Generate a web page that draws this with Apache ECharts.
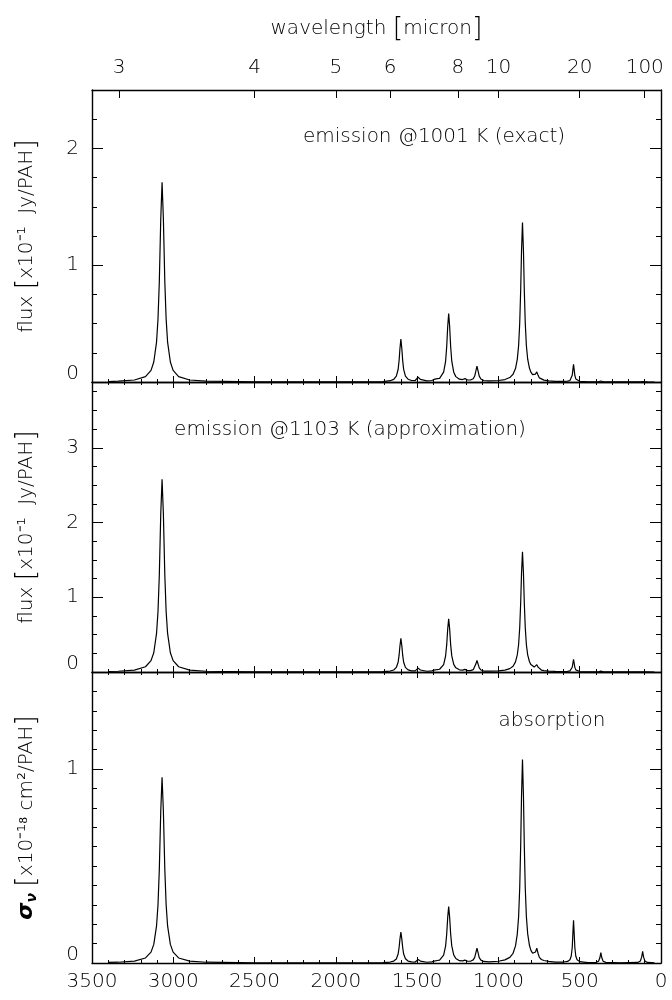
<!DOCTYPE html>
<html>
<head>
<meta charset="utf-8">
<script src="https://cdn.jsdelivr.net/npm/echarts@6/dist/echarts.min.js"></script>
<style>
html,body{margin:0;padding:0;background:#fff}
#chart{width:672px;height:1000px}
</style>
</head>
<body>
<div id="chart"></div>
<script>
// wavenumber grid [cm^-1], shared by the three panels
const wavenumber = [
  3400, 3339, 3239, 3171, 3137, 3120, 3103, 3094, 3086, 3077, 3069, 3061, 3052, 3044, 3035, 3018, 3001, 2967, 2899, 2799, 2500, 2000,
  1800, 1710, 1666, 1644, 1628, 1617, 1611, 1606, 1600, 1594, 1589, 1583, 1572, 1556, 1534, 1512, 1500, 1494, 1490, 1486, 1480, 1468,
  1440, 1410, 1396, 1386, 1376, 1362, 1350, 1337, 1325, 1318, 1312, 1306, 1300, 1294, 1287, 1275, 1262, 1240, 1220, 1212, 1206, 1200,
  1190, 1172, 1155, 1146, 1139, 1132, 1125, 1118, 1108, 1090, 1060,
  1000, 960, 930, 910, 895, 884, 876, 869, 863, 858, 852, 846, 841, 835, 828, 820, 809, 800, 790, 780,
  772, 764, 756, 748, 736, 720, 690, 650, 600, 575, 560, 552, 546, 542, 538, 534, 530, 524, 516, 500,
  450, 400, 384, 376, 370, 364, 356, 340, 250, 143, 127, 119, 113, 107, 99, 83, 40
];

// emission @1001 K (exact), x10^-1 Jy/PAH
const emissionExact = [
  0.004, 0.007, 0.017, 0.046, 0.10, 0.171, 0.342, 0.54, 0.855, 1.40, 1.71, 1.40, 0.855, 0.54, 0.342, 0.171, 0.10, 0.046, 0.017, 0.007, 0.002, 0.001,
  0.002, 0.004, 0.011, 0.022, 0.050, 0.107, 0.184, 0.282, 0.367, 0.283, 0.185, 0.108, 0.050, 0.024, 0.013, 0.013, 0.023, 0.041, 0.052, 0.041, 0.022, 0.012,
  0.009, 0.013, 0.022, 0.034, 0.029, 0.031, 0.046, 0.084, 0.177, 0.306, 0.475, 0.587, 0.475, 0.306, 0.178, 0.084, 0.046, 0.024, 0.021, 0.026, 0.029, 0.025,
  0.017, 0.017, 0.028, 0.051, 0.093, 0.136, 0.093, 0.050, 0.025, 0.013, 0.009,
  0.013, 0.021, 0.038, 0.066, 0.115, 0.194, 0.309, 0.505, 0.792, 1.12, 1.366, 1.12, 0.793, 0.506, 0.310, 0.195, 0.117, 0.084, 0.063, 0.057,
  0.068, 0.087, 0.057, 0.035, 0.023, 0.016, 0.010, 0.006, 0.005, 0.007, 0.013, 0.026, 0.057, 0.106, 0.152, 0.106, 0.056, 0.026, 0.012, 0.006,
  0.002, 0.002, 0.002, 0.005, 0.009, 0.005, 0.002, 0.001, 0.0005, 0.0004, 0.0006, 0.0014, 0.0024, 0.0014, 0.0006, 0.0004, 0
];

// emission @1103 K (approximation), x10^-1 Jy/PAH
const emissionApprox = [
  0.007, 0.010, 0.026, 0.070, 0.152, 0.258, 0.516, 0.81, 1.29, 2.12, 2.58, 2.12, 1.29, 0.81, 0.516, 0.258, 0.152, 0.070, 0.026, 0.010, 0.003, 0.002,
  0.002, 0.005, 0.013, 0.027, 0.061, 0.131, 0.225, 0.345, 0.449, 0.346, 0.225, 0.131, 0.062, 0.029, 0.016, 0.015, 0.028, 0.052, 0.067, 0.052, 0.027, 0.013,
  0.010, 0.015, 0.025, 0.038, 0.033, 0.037, 0.055, 0.100, 0.214, 0.369, 0.575, 0.711, 0.576, 0.370, 0.215, 0.102, 0.056, 0.029, 0.025, 0.031, 0.035, 0.029,
  0.019, 0.018, 0.031, 0.057, 0.106, 0.154, 0.105, 0.056, 0.027, 0.013, 0.011,
  0.015, 0.025, 0.045, 0.077, 0.135, 0.229, 0.364, 0.595, 0.933, 1.318, 1.608, 1.318, 0.933, 0.596, 0.364, 0.230, 0.137, 0.099, 0.074, 0.066,
  0.077, 0.098, 0.065, 0.040, 0.026, 0.018, 0.012, 0.008, 0.006, 0.008, 0.015, 0.029, 0.063, 0.117, 0.169, 0.117, 0.062, 0.028, 0.014, 0.006,
  0.002, 0.002, 0.003, 0.006, 0.011, 0.006, 0.003, 0.0015, 0.0006, 0.0004, 0.0006, 0.0014, 0.0024, 0.0014, 0.0006, 0.0004, 0
];

// absorption cross section, x10^-18 cm^2/PAH
const absorption = [
  0.003, 0.004, 0.010, 0.026, 0.056, 0.096, 0.191, 0.30, 0.48, 0.785, 0.957, 0.785, 0.48, 0.30, 0.191, 0.096, 0.056, 0.026, 0.010, 0.004, 0.001, 0.001,
  0.001, 0.002, 0.005, 0.010, 0.021, 0.046, 0.080, 0.122, 0.159, 0.122, 0.080, 0.046, 0.022, 0.010, 0.006, 0.005, 0.010, 0.018, 0.023, 0.018, 0.010, 0.005,
  0.004, 0.006, 0.010, 0.015, 0.013, 0.015, 0.022, 0.041, 0.087, 0.151, 0.235, 0.291, 0.235, 0.151, 0.088, 0.042, 0.023, 0.012, 0.011, 0.013, 0.015, 0.013,
  0.009, 0.009, 0.016, 0.029, 0.052, 0.076, 0.052, 0.028, 0.015, 0.008, 0.006,
  0.009, 0.016, 0.029, 0.050, 0.088, 0.149, 0.237, 0.388, 0.608, 0.860, 1.049, 0.860, 0.609, 0.389, 0.238, 0.150, 0.090, 0.065, 0.050, 0.046,
  0.057, 0.076, 0.049, 0.029, 0.018, 0.013, 0.008, 0.005, 0.005, 0.008, 0.017, 0.036, 0.080, 0.152, 0.220, 0.152, 0.080, 0.035, 0.017, 0.007,
  0.002, 0.003, 0.009, 0.027, 0.053, 0.027, 0.009, 0.003, 0.001, 0.003, 0.010, 0.030, 0.060, 0.030, 0.010, 0.003, 0.0005
];

// top axis tick labels, wavelength in micron
const wavelengthTicks = [3, 4, 5, 6, 8, 10, 20, 100];
const panelTexts = ['emission @1001 K (exact)', 'emission @1103 K (approximation)', 'absorption'];

const FONT = 'DejaVu Sans';
const WEIGHT = 200;
const grids = [
  { left: 92, right: 11, top: 90, height: 292 },
  { left: 92, right: 11, top: 382, height: 290 },
  { left: 92, right: 11, top: 672, height: 291 }
];
const yMax = [2.5, 3.88, 1.5];
const yMinorSplit = [4, 4, 10];
const textPos = [[434, 137], [350, 430], [552, 721]];

function txt(extra) {
  return Object.assign({ color: '#000', fontFamily: FONT, fontSize: 20, fontWeight: WEIGHT }, extra || {});
}

function wnAxis(gi, position, showLabels) {
  return {
    type: 'value', gridIndex: gi, position: position,
    min: 0, max: 3500, interval: 500, inverse: true,
    axisLine: { show: true, onZero: false, lineStyle: { color: '#000', width: 1.4 } },
    axisTick: { show: true, inside: true, length: 6, lineStyle: { color: '#000', width: 1 } },
    minorTick: { show: true, splitNumber: 5, length: 3, lineStyle: { color: '#000', width: 1 } },
    axisLabel: txt({ show: showLabels, margin: 9, formatter: v => String(v) }),
    splitLine: { show: false }
  };
}

const wlValues = wavelengthTicks.map(w => 10000 / w);
const xAxes = [
  wnAxis(0, 'bottom', false),
  {
    type: 'value', gridIndex: 0, position: 'top',
    min: 0, max: 3500, inverse: true,
    name: 'wavelength {b|[}micron{b|]}', nameLocation: 'middle', nameGap: 48,
    nameTextStyle: txt({ rich: { b: txt({ fontSize: 27 }) } }),
    axisLine: { show: true, onZero: false, lineStyle: { color: '#000', width: 1.4 } },
    axisTick: { show: true, inside: true, length: 8, customValues: wlValues, lineStyle: { color: '#000', width: 1 } },
    minorTick: { show: false },
    axisLabel: txt({ margin: 12, customValues: wlValues, formatter: v => String(Math.round(10000 / v)) }),
    splitLine: { show: false }
  },
  wnAxis(1, 'bottom', false),
  wnAxis(1, 'top', false),
  wnAxis(2, 'bottom', true),
  wnAxis(2, 'top', false)
];

const fluxName = 'flux {b|[}x10⁻¹  Jy/PAH{b|]}';
const sigmaName = '{s|σ}{n|ν} {b|[}x10⁻¹⁸ cm²/PAH{b|]}';
const nameRich = {
  b: txt({ fontSize: 27 }),
  s: { fontSize: 22, fontFamily: FONT, fontStyle: 'italic', fontWeight: 'bold', color: '#000' },
  n: { fontSize: 14, fontFamily: FONT, fontStyle: 'italic', fontWeight: 'bold', color: '#000', padding: [12, 0, 0, 0] }
};

function yAxis(gi, position, showLabels) {
  return {
    type: 'value', gridIndex: gi, position: position,
    min: 0, max: yMax[gi], interval: 1,
    name: position === 'left' ? (gi === 2 ? sigmaName : fluxName) : '',
    nameLocation: 'middle', nameGap: 52,
    nameTextStyle: txt({ rich: nameRich }),
    axisLine: { show: true, onZero: false, lineStyle: { color: '#000', width: 1.4 } },
    axisTick: { show: true, inside: true, length: 11, lineStyle: { color: '#000', width: 1 } },
    minorTick: { show: true, splitNumber: yMinorSplit[gi], length: 5, lineStyle: { color: '#000', width: 1 } },
    axisLabel: txt({
      show: showLabels, margin: 13, showMaxLabel: false,
      formatter: v => v === 0 ? '{z|0}' : String(v),
      rich: { z: txt({ padding: [0, 0, 17, 0] }) }
    }),
    splitLine: { show: false }
  };
}

const yAxes = [];
[0, 1, 2].forEach(gi => { yAxes.push(yAxis(gi, 'left', true)); yAxes.push(yAxis(gi, 'right', false)); });

const seriesData = [emissionExact, emissionApprox, absorption];
const series = seriesData.map((vals, i) => ({
  type: 'line', xAxisIndex: i * 2, yAxisIndex: i * 2,
  data: wavenumber.map((w, k) => [w, vals[k]]),
  showSymbol: false, smooth: false,
  lineStyle: { color: '#000', width: 1.2 }
}));

const chart = echarts.init(document.getElementById('chart'));
chart.setOption({
  animation: false,
  backgroundColor: '#fff',
  grid: grids,
  xAxis: xAxes,
  yAxis: yAxes,
  series: series,
  graphic: panelTexts.map((t, i) => ({
    type: 'text', x: textPos[i][0], y: textPos[i][1], silent: true,
    style: { text: t, fill: '#000', fontFamily: FONT, fontSize: 20, fontWeight: WEIGHT, align: 'center', verticalAlign: 'middle' }
  }))
});
window.addEventListener('resize', () => chart.resize());
</script>
</body>
</html>
